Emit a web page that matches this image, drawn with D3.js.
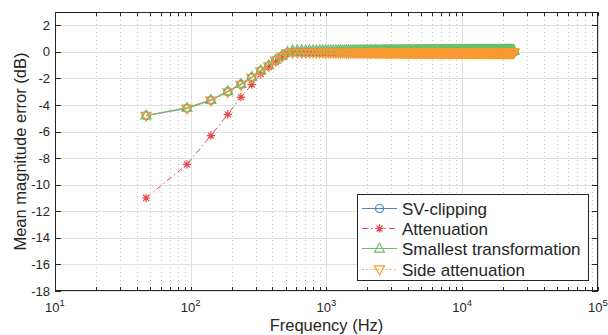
<!DOCTYPE html>
<html><head><meta charset="utf-8">
<script src="https://cdn.jsdelivr.net/npm/d3@7"></script>
<style>body{margin:0;background:#fff}svg{display:block}text{font-family:"Liberation Sans",Arial,sans-serif;fill:#262626}</style>
</head><body><svg id="c" width="608" height="335"></svg>
<script>
const binWidth = 46.875;
const nBins = 512;
// ramp values (first 11 bins)
const svClipRamp   = [-4.8, -4.25, -3.65, -3.0, -2.45, -1.93, -1.43, -1.05, -0.63, -0.33, -0.07];
const attenRamp    = [-11.0, -8.47, -6.3, -4.7, -3.4, -2.46, -1.68, -1.13, -0.78, -0.4, -0.1];
const smallestRamp = [-4.78, -4.2, -3.6, -2.95, -2.4, -1.88, -1.38, -1.0, -0.58, -0.28, 0.0];
const sideRamp     = [-4.82, -4.28, -3.68, -3.05, -2.5, -1.97, -1.47, -1.09, -0.67, -0.37, -0.1];
// plateau levels above ~550 Hz
const svClipPlateau = -0.02, attenPlateau = 0.0, smallestPlateau = 0.12, sidePlateau = -0.08;
const seriesNames = ["SV-clipping", "Attenuation", "Smallest transformation", "Side attenuation"];
const yTicks = [2,0,-2,-4,-6,-8,-10,-12,-14,-16,-18];
const xDecades = [1,2,3,4,5];

const colors = ["#4b87c1", "#e8454a", "#6ebf6a", "#f99a33"];
const dashes = [null, "6,3,1.5,3", null, "1.5,2.5"];
const markers = ["circle", "star", "up", "down"];

function build(ramp, plateau){
  const out=[];
  for(let k=1;k<=nBins;k++){ out.push({f:k*binWidth, v: k<=ramp.length? ramp[k-1] : plateau}); }
  return out;
}
const series = [build(svClipRamp,svClipPlateau), build(attenRamp,attenPlateau), build(smallestRamp,smallestPlateau), build(sideRamp,sidePlateau)];

const L=55,R=598,T=12,B=291;
const svg=d3.select("#c");
const x=d3.scaleLog().domain([10,1e5]).range([L,R]);
const y=d3.scaleLinear().domain([-18,3]).range([B,T]);

// grid
const g=svg.append("g");
const minor=[];
for(let d=1; d<5; d++) for(let m=2;m<=9;m++) minor.push(m*Math.pow(10,d));
g.selectAll(".mg").data(minor).enter().append("line")
 .attr("x1",d=>Math.round(x(d))+0.5).attr("x2",d=>Math.round(x(d))+0.5).attr("y1",T).attr("y2",B)
 .attr("stroke","#c8c8c8").attr("stroke-dasharray","1,3");
g.selectAll(".xg").data(xDecades.map(e=>Math.pow(10,e))).enter().append("line")
 .attr("x1",d=>Math.round(x(d))+0.5).attr("x2",d=>Math.round(x(d))+0.5).attr("y1",T).attr("y2",B)
 .attr("stroke","#e0e0e0");
g.selectAll(".yg").data(yTicks).enter().append("line")
 .attr("y1",d=>Math.round(y(d))+0.5).attr("y2",d=>Math.round(y(d))+0.5).attr("x1",L).attr("x2",R)
 .attr("stroke","#e0e0e0");

function drawMarker(sel,px,py,type,col){
  if(type==="circle"){
    sel.append("circle").attr("cx",px).attr("cy",py).attr("r",4).attr("fill","none").attr("stroke",col).attr("stroke-width",1.2);
  } else if(type==="star"){
    const r=4.2, a=r*0.7071;
    sel.append("path").attr("d",`M${px-r},${py}H${px+r}M${px},${py-r}V${py+r}M${px-a},${py-a}L${px+a},${py+a}M${px-a},${py+a}L${px+a},${py-a}`)
      .attr("stroke",col).attr("stroke-width",1.2).attr("fill","none");
  } else {
    const p = type==="up" ? `M${px},${py-5.2}L${px+5},${py+3.6}L${px-5},${py+3.6}Z` : `M${px-5},${py-3.6}L${px+5},${py-3.6}L${px},${py+5.2}Z`;
    sel.append("path").attr("d",p).attr("fill","none").attr("stroke",col).attr("stroke-width",1.2);
  }
}

// series lines & markers
series.forEach((s,i)=>{
  const line=d3.line().x(d=>x(d.f)).y(d=>y(d.v));
  svg.append("path").datum(s).attr("d",line).attr("fill","none").attr("stroke",colors[i])
    .attr("stroke-width",1).attr("stroke-dasharray",dashes[i]);
  const mg=svg.append("g");
  s.forEach(d=>drawMarker(mg, x(d.f), y(d.v), markers[i], colors[i]));
});

// axes box & ticks
const ax=svg.append("g").attr("stroke","#262626").attr("fill","none");
ax.append("rect").attr("x",L+0.5).attr("y",T+0.5).attr("width",R-L-1).attr("height",B-T-1).attr("stroke-width",1);
const allX = xDecades.map(e=>Math.pow(10,e)).concat(minor);
allX.forEach(v=>{
  const px=Math.round(x(v))+0.5;
  ax.append("line").attr("x1",px).attr("x2",px).attr("y1",B).attr("y2",B-4);
  ax.append("line").attr("x1",px).attr("x2",px).attr("y1",T).attr("y2",T+4);
});
yTicks.forEach(v=>{
  const py=Math.round(y(v))+0.5;
  ax.append("line").attr("x1",L).attr("x2",L+6).attr("y1",py).attr("y2",py);
  ax.append("line").attr("x1",R).attr("x2",R-6).attr("y1",py).attr("y2",py);
});

// tick labels
svg.selectAll(".yl").data(yTicks).enter().append("text")
 .attr("x",50).attr("y",d=>y(d)+4.5).attr("text-anchor","end").attr("font-size",13).text(d=>d);
xDecades.forEach(e=>{
  const t=svg.append("text").attr("x",x(Math.pow(10,e))).attr("y",312).attr("text-anchor","middle").attr("font-size",13);
  t.append("tspan").text("10");
  t.append("tspan").attr("dy",-6).attr("font-size",9.5).text(e);
});

// axis titles
svg.append("text").attr("x",(L+R)/2).attr("y",331).attr("text-anchor","middle").attr("font-size",16.5).text("Frequency (Hz)");
svg.append("text").attr("transform",`translate(26,${(T+B)/2}) rotate(-90)`).attr("text-anchor","middle").attr("font-size",16.5).text("Mean magnitude error (dB)");

// legend
const lg=svg.append("g");
lg.append("rect").attr("x",357.5).attr("y",194.5).attr("width",231).attr("height",86).attr("fill","#fff").attr("stroke","#262626");
const ly=[208.5,228.5,248.5,269.5];
seriesNames.forEach((n,i)=>{
  lg.append("line").attr("x1",362).attr("x2",397).attr("y1",ly[i]).attr("y2",ly[i]).attr("stroke",colors[i]).attr("stroke-dasharray",dashes[i]);
  drawMarker(lg,379.5,ly[i],markers[i],colors[i]);
  lg.append("text").attr("x",402).attr("y",ly[i]+6).attr("font-size",17).text(n);
});
</script></body></html>
